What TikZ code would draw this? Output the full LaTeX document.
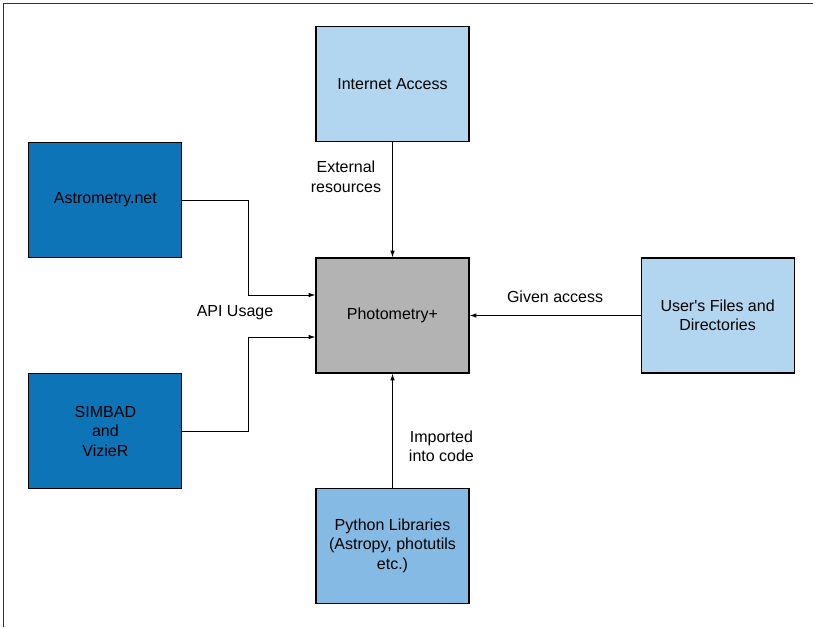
\documentclass[tikz,border=0pt]{standalone}
\usepackage{fontspec}
\setmainfont{Liberation Sans}
\usetikzlibrary{arrows.meta,positioning,calc}

\definecolor{darkblue}{HTML}{0E74B8}
\definecolor{lightblue}{HTML}{B3D6F0}
\definecolor{midblue}{HTML}{85BAE4}
\definecolor{boxgray}{HTML}{B3B3B3}

\begin{document}
\begin{tikzpicture}[
    x=1pt, y=1pt,
    font=\fontsize{16}{19.5}\selectfont,
    block/.style={
        draw=black,
        line width=1.1pt,
        align=center,
        minimum width=153pt,
        minimum height=115pt,
        inner sep=4pt
    },
    label/.style={
        align=center,
        inner sep=0pt
    },
    arrow/.style={-{Latex[length=2.4mm,width=1.6mm]}, line width=0.9pt, draw=black}
]

\useasboundingbox (0,0) rectangle (813,-627);
% outer frame
\draw[line width=1.4pt, draw=black!80] (3.5,-627) -- (3.5,-3.5) -- (813,-3.5);

% central block and its neighbours
\node[block, fill=boxgray] (photo) at (392.5,-315.5) {Photometry+};

\node[block, fill=lightblue, above=115pt of photo] (internet) {Internet Access};

\node[block, fill=midblue, below=114pt of photo] (python) {
Python Libraries\\
(Astropy, photutils\\
etc.)
};

\node[block, fill=lightblue, right=171pt of photo] (userfiles) {
User\textquotesingle s Files and\\
Directories
};

\node[block, fill=darkblue, above left=57.5pt and 133pt of photo.west] (astrometry) {Astrometry.net};

\node[block, fill=darkblue, below left=57.5pt and 133pt of photo.west] (simbad) {
SIMBAD\\
and\\
VizieR
};

% connectors
\draw[arrow] (internet) -- node[label, left=11pt, pos=0.3] (extres) {External\\resources} (photo);
\draw[arrow] (python) -- node[label, right=16pt, pos=0.36] (imported) {Imported\\into code} (photo);
\draw[arrow] (userfiles) -- node[label, above=12pt, pos=0.5] (given) {Given access} (photo);

\draw[arrow] (astrometry.east) -- ++(66pt,0) |- ([yshift=20.5pt]photo.west);
\draw[arrow] (simbad.east) -- ++(66pt,0) |- ([yshift=-21.5pt]photo.west);

\node[label] (api) at (235,-313) {API Usage};

\end{tikzpicture}
\end{document}
